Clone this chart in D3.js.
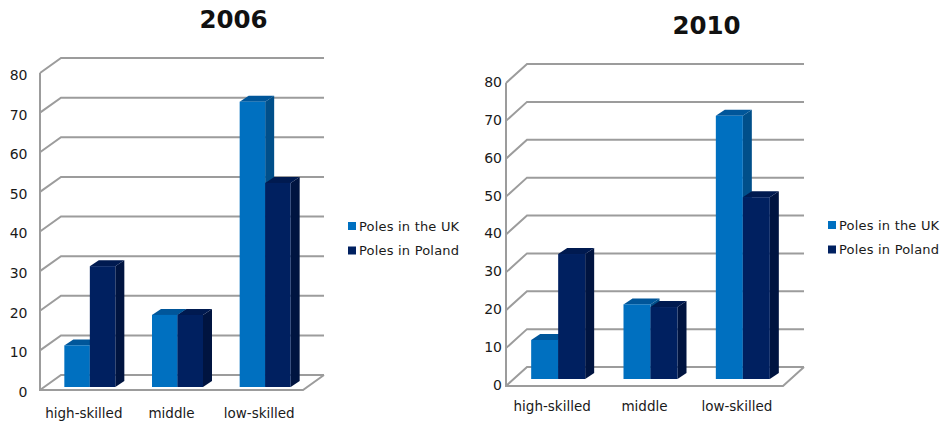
<!DOCTYPE html>
<html>
<head>
<meta charset="utf-8">
<style>
  html, body { margin: 0; background: #fff; }
  svg { display: block; }
  text { font-family: "DejaVu Sans", Verdana, sans-serif; fill: #1a1a1a; }
</style>
<script src="https://cdn.jsdelivr.net/npm/d3@7/dist/d3.min.js"></script>
</head>
<body>
<svg id="chart" width="944" height="424"></svg>
<script>
// Occupational structure of Poles in the UK and in Poland, two survey years
const categories = ["high-skilled", "middle", "low-skilled"];
const seriesNames = ["Poles in the UK", "Poles in Poland"];
const yTicks = [0, 10, 20, 30, 40, 50, 60, 70, 80];
const uk2006 = [10.5, 18.2, 72];
const poland2006 = [30.5, 18.2, 51.5];
const uk2010 = [10.3, 19.7, 69.5];
const poland2010 = [33, 19, 48];

const ukFront = "#0070c0", ukTop = "#00569a", ukSide = "#004f8a";
const plFront = "#002060", plTop = "#001a50", plSide = "#001440";
const gridColor = "#9c9c9c";

const svg = d3.select("#chart");

function drawPanel(p) {
  const g = svg.append("g");
  const x = d3.scaleBand().domain(categories).range([p.left, p.right]).paddingInner(0).paddingOuter(0);
  const y = d3.scaleLinear().domain([0, 80]).range([p.bottom, p.top]);
  const barW = p.barWidth;

  // Back wall gridlines with their diagonal returns along the side wall
  yTicks.forEach(t => {
    const yy = y(t);
    g.append("path")
      .attr("d", `M${p.left},${yy}L${p.left + p.wallX},${yy - p.wallY}L${p.right + p.wallX},${yy - p.wallY}`)
      .attr("fill", "none").attr("stroke", gridColor).attr("stroke-width", 2);
  });

  // Floor edge and left wall edge
  g.append("path")
    .attr("d", `M${p.left},${y(80)}L${p.left},${y(0)}L${p.right},${y(0)}L${p.right + p.wallX},${y(0) - p.wallY}`)
    .attr("fill", "none").attr("stroke", gridColor).attr("stroke-width", 2);

  // Extruded columns: the right-hand series first, so the left column's side tucks behind it
  const cx = c => x(c) + x.bandwidth() / 2 - barW + p.barX;
  const base = y(0) - p.barY;
  const yBar = v => base - (y(0) - y(v));
  const d = p.barDepth, r = p.barRise;

  function column(cat, value, idx, front, top, side) {
    const x0 = cx(cat) + idx * barW, x1 = x0 + barW, t = yBar(value);
    g.append("path").attr("fill", side)
      .attr("d", `M${x1},${t}L${x1 + d},${t - r}L${x1 + d},${base - r}L${x1},${base}Z`);
    g.append("path").attr("fill", top)
      .attr("d", `M${x0},${t}L${x0 + d},${t - r}L${x1 + d},${t - r}L${x1},${t}Z`);
    g.append("rect").attr("fill", front)
      .attr("x", x0).attr("y", t).attr("width", barW).attr("height", base - t);
  }

  categories.forEach((c, i) => {
    column(c, p.uk[i], 0, ukFront, ukTop, ukSide);
    column(c, p.poland[i], 1, plFront, plTop, plSide);
  });

  // Axes
  const yAxis = d3.axisLeft(y).tickValues(yTicks).tickSize(0).tickPadding(p.tickGap);
  const gy = g.append("g").attr("transform", `translate(${p.left},${p.labelShift})`).call(yAxis);
  gy.select(".domain").remove();
  gy.selectAll("text").style("font-size", "14px").style("font-family", '"DejaVu Sans", sans-serif');

  const xAxis = d3.axisBottom(x).tickSize(0).tickPadding(p.catGap);
  const gx = g.append("g").attr("transform", `translate(0,${y(0)})`).call(xAxis);
  gx.select(".domain").remove();
  gx.selectAll("text").style("font-size", "13.5px").style("font-family", '"DejaVu Sans", sans-serif');

  // Title
  g.append("text").attr("x", p.titleX).attr("y", p.titleY).attr("text-anchor", "middle")
    .style("font-size", "24.5px").style("font-weight", "bold").style("fill", "#111").text(p.title);

  // Legend
  seriesNames.forEach((s, i) => {
    const ly = p.legendY + i * p.legendGap;
    g.append("rect").attr("x", p.legendX).attr("y", ly - 4).attr("width", 8).attr("height", 8)
      .attr("fill", i === 0 ? ukFront : plFront);
    g.append("text").attr("x", p.legendX + 11).attr("y", ly).attr("dy", "0.36em")
      .style("font-size", "13px").style("letter-spacing", "0.2px").text(s);
  });
}

drawPanel({
  title: "2006", uk: uk2006, poland: poland2006,
  left: 40, right: 303, top: 73, bottom: 390, wallX: 21, wallY: 15,
  barWidth: 25.5, barX: 6, barY: 3, barDepth: 9, barRise: 6,
  tickGap: 12.5, labelShift: 2, catGap: 18,
  titleX: 233.5, titleY: 28, legendX: 348, legendY: 226, legendGap: 24.5
});

drawPanel({
  title: "2010", uk: uk2010, poland: poland2010,
  left: 506, right: 783, top: 83, bottom: 386, wallX: 21, wallY: 19,
  barWidth: 27, barX: 6, barY: 7, barDepth: 9, barRise: 6,
  tickGap: 4, labelShift: -1, catGap: 15.5,
  titleX: 706.5, titleY: 34, legendX: 828, legendY: 225, legendGap: 24.5
});
</script>
</body>
</html>
